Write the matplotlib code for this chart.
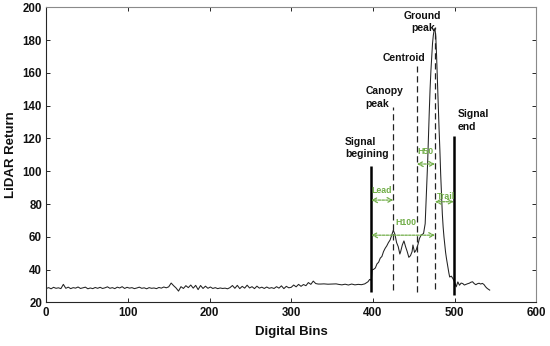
import numpy as np
import matplotlib
matplotlib.use("Agg")
import matplotlib.pyplot as plt

plt.rcParams['font.family'] = ['Liberation Sans', 'DejaVu Sans']

# ---- data ----
noise_bins = list(range(0, 334, 3))
noise_vals = [
    28.5, 29.0, 28.3, 29.2, 28.6, 28.9, 28.4, 31.0, 28.6, 29.3,
    28.4, 29.0, 28.7, 29.4, 28.5, 28.9, 29.3, 28.3, 28.8, 28.4,
    29.1, 28.6, 29.2, 28.5, 28.9, 29.5, 28.6, 29.0, 28.4, 29.3,
    28.8, 29.6, 28.5, 29.2, 28.7, 29.0, 28.4, 28.8, 29.3, 28.6,
    28.9, 28.3, 29.0, 28.6, 28.8, 28.4, 29.1, 28.7, 29.4, 28.9,
    29.5, 31.8, 30.2, 28.8, 26.9, 29.6, 28.5, 30.2, 29.0, 30.6,
    28.7, 30.4, 27.8, 30.3, 28.5, 29.9, 28.6, 29.4, 28.5, 29.0,
    28.4, 28.8, 28.5, 28.7, 28.3, 29.0, 30.3, 28.6, 30.4, 28.4,
    29.8, 28.7, 30.5, 28.8, 29.6, 28.4, 29.9, 28.7, 29.3, 28.5,
    29.4, 28.6, 29.0, 28.5, 29.6, 28.7, 30.1, 28.4, 29.8, 28.9,
    29.2, 30.6, 29.5, 31.0, 29.8, 30.9, 30.2, 32.1, 31.0, 33.0,
    31.5, 31.2,
]
wave_bins = [
    336, 340, 345, 350, 355, 358, 362, 366, 370, 374, 378, 382, 386, 390,
    394, 396, 398, 399, 401, 403, 405, 407, 409, 411, 413, 415, 417, 419,
    421, 423, 425, 427, 429, 431, 433, 434, 436, 438, 440, 442, 444, 446,
    448, 449, 451, 453, 455, 457, 459, 462, 464, 465, 466, 467, 468, 469,
    470, 471, 472, 473, 474, 475, 476, 477, 478, 479, 480, 481, 482, 483,
    484, 485, 486, 487, 488, 489, 490, 491, 492, 493, 494, 496, 498, 500,
    502, 504, 506, 508, 510, 512, 514, 516, 518, 520, 522, 524, 526, 528,
    530, 532, 534, 536, 538, 540, 543,
]
wave_vals = [
    31.2, 31.3, 31.1, 31.2, 31.3, 31.0, 30.7, 31.1, 30.6, 31.2, 30.7, 31.0, 30.8, 31.3,
    32.6, 34.0, 33.5, 39.8, 40.2, 41.0, 43.5, 44.5, 47.0, 48.0, 51.0, 53.0, 54.5, 56.5,
    58.0, 61.0, 64.0, 61.5, 56.5, 54.0, 49.5, 51.0, 55.0, 57.5, 54.0, 51.0, 47.5, 48.5,
    51.0, 55.0, 50.5, 52.0, 55.0, 59.0, 61.0, 62.0, 68.0, 80.0, 92.0, 105.0, 121.0, 136.0,
    150.0, 161.0, 170.0, 178.0, 183.0, 186.0, 187.0, 182.0, 170.0, 155.0, 140.0, 126.0, 113.0, 98.0,
    86.0, 74.0, 66.0, 60.0, 55.0, 50.5, 47.0, 44.0, 41.0, 38.0, 35.5, 36.0, 34.5, 32.5,
    29.5, 32.5, 30.5, 31.8, 31.5, 30.6, 31.0, 31.4, 31.7, 32.3, 32.6, 31.5, 30.8, 31.4,
    31.7, 31.2, 31.6, 30.9, 29.5, 28.5, 27.5,
]
bins = noise_bins + wave_bins
returns = noise_vals + wave_vals

# marker lines: (x, y_bottom, y_top)
signal_begin = (398, 26.5, 103.3)
canopy_peak = (425, 27.5, 139)
centroid = (454, 26.5, 164.4)
ground_peak = (476, 28, 188)
signal_end = (499, 24.5, 121.6)

green = '#70AD47'

fig = plt.figure(figsize=(5.5, 3.46), dpi=100)
ax = fig.add_axes([0.084, 0.126, 0.891, 0.853])

ax.plot(bins, returns, color='#222222', lw=0.75)

# solid signal lines
for xl, y0, y1 in (signal_begin, signal_end):
    ax.plot([xl, xl], [y0, y1], color='black', lw=1.8, solid_capstyle='butt')
# dashed lines
for xl, y0, y1 in (canopy_peak, centroid, ground_peak):
    ax.plot([xl, xl], [y0, y1], color='#222222', lw=0.9, dashes=(5, 3))

# labels
tk = dict(fontsize=7.5, fontweight='bold', color='#111111', linespacing=1.35)
ax.text(461, 191, 'Ground\npeak', ha='center', va='center', multialignment='center', **tk)
ax.text(437.5, 169, 'Centroid', ha='center', va='center', **tk)
ax.text(391.3, 145, 'Canopy\npeak', ha='left', va='center', **tk)
ax.text(365.6, 114.2, 'Signal\nbegining', ha='left', va='center', **tk)
ax.text(503.4, 130.7, 'Signal\nend', ha='left', va='center', **tk)

# green arrows
def darrow(x1, x2, y, label, lx, ly):
    ax.annotate('', xy=(x1, y), xytext=(x2, y),
                arrowprops=dict(arrowstyle='<->,head_length=0.35,head_width=0.18',
                                color=green, lw=0.9, linestyle=(0, (2, 1)),
                                shrinkA=0, shrinkB=0))
    ax.text(lx, ly, label, color=green, fontsize=6.3, fontweight='bold',
            ha='center', va='center')

darrow(signal_begin[0], canopy_peak[0], 82.4, 'Lead', 411, 88.5)
darrow(signal_begin[0], ground_peak[0], 61, 'H100', 440.5, 68.6)
darrow(centroid[0], ground_peak[0], 104.4, 'H50', 464, 111.9)
darrow(ground_peak[0], signal_end[0], 81.4, 'Trail', 490, 84.4)

ax.set_xlim(0, 600)
ax.set_ylim(20, 200)
ax.set_xticks(range(0, 601, 100))
ax.set_yticks(range(20, 201, 20))
ax.tick_params(direction='in', length=3, width=0.7, top=True, right=True,
               labelsize=8.3, colors='#262626', pad=3)
for lab in ax.get_xticklabels() + ax.get_yticklabels():
    lab.set_fontweight('bold')
    lab.set_color('#111111')
for s in ('left', 'bottom'):
    ax.spines[s].set_color('#262626')
    ax.spines[s].set_linewidth(0.8)
for s in ('top', 'right'):
    ax.spines[s].set_color('#8a8a8a')
    ax.spines[s].set_linewidth(0.8)

ax.set_xlabel('Digital Bins', fontsize=9.5, fontweight='bold', color='#111111', labelpad=5)
ax.set_ylabel('LiDAR Return', fontsize=9.5, fontweight='bold', color='#111111', labelpad=4)

fig.savefig('out.png', dpi=100)
